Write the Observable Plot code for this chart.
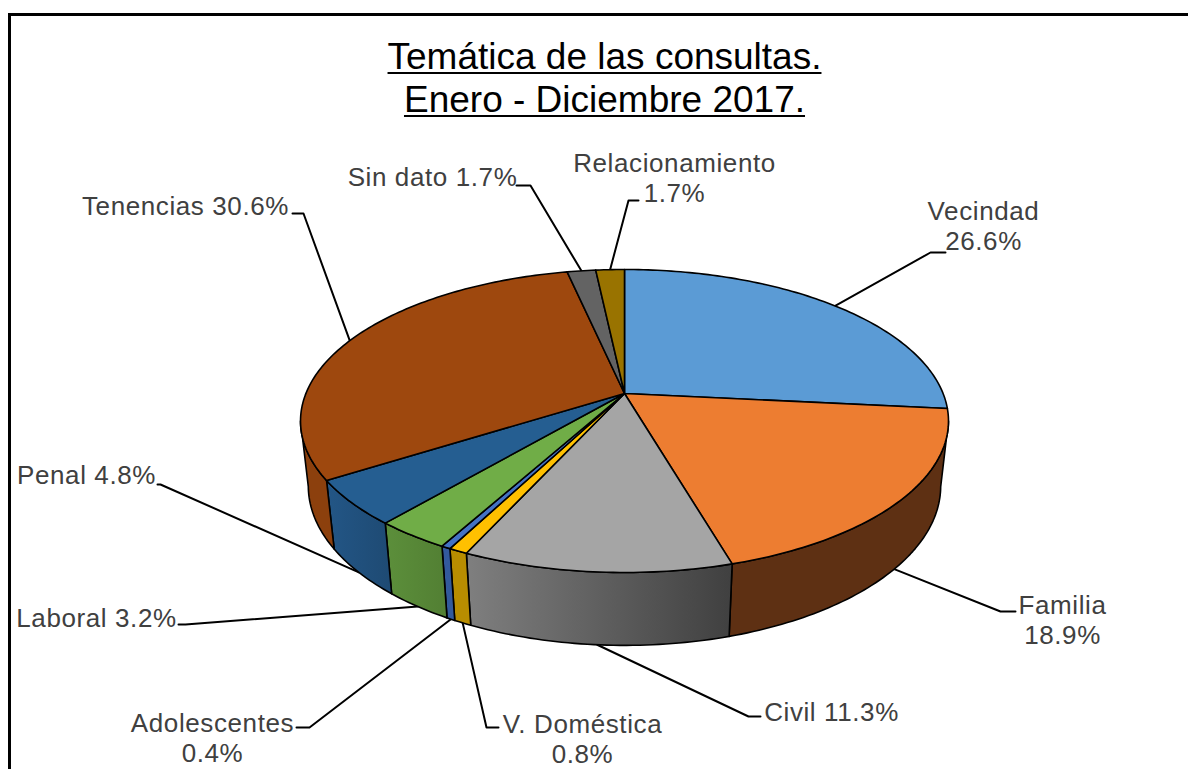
<!DOCTYPE html>
<html lang="es">
<head>
<meta charset="utf-8">
<script src="https://cdn.jsdelivr.net/npm/d3@7"></script>
<script src="https://cdn.jsdelivr.net/npm/@observablehq/plot@0.6"></script>
<style>
  html, body { margin: 0; padding: 0; width: 1188px; height: 769px; overflow: hidden; background: #fff; }
  #frame { position: absolute; left: 8px; top: 13px; width: 1300px; height: 800px; border-left: 3px solid #000; border-top: 3px solid #000; pointer-events: none; }
  #title { position: absolute; left: 0; top: 35px; width: 1209px; text-align: center;
           font: 37px/43px "Liberation Sans", Arial, sans-serif; color: #000; }
  #title u { text-underline-offset: 3px; text-decoration-thickness: 2px; }
  #chart { position: absolute; left: 0; top: 125px; }
  #chart svg { background: transparent; }
</style>
</head>
<body>
<div id="title"><u>Temática de las consultas.</u><br><u>Enero - Diciembre 2017.</u></div>
<div id="chart"></div>
<div id="frame"></div>
<script>
// Data, clockwise from 12 o'clock
const categories = ["Vecindad", "Familia", "Civil", "V. Doméstica", "Adolescentes", "Laboral", "Penal", "Tenencias", "Sin dato", "Relacionamiento"];
const values = [26.6, 18.9, 11.3, 0.8, 0.4, 3.2, 4.8, 30.6, 1.7, 1.7];
const labels = ["Vecindad\n26.6%", "Familia\n18.9%", "Civil 11.3%", "V. Doméstica\n0.8%", "Adolescentes\n0.4%", "Laboral 3.2%", "Penal 4.8%", "Tenencias 30.6%", "Sin dato 1.7%", "Relacionamiento\n1.7%"];
const topColors = ["#5b9bd5", "#ed7d31", "#a5a5a5", "#ffc000", "#4472c4", "#70ad47", "#255e91", "#9e480e", "#636363", "#997300"];
const wallColors = ["#5b9bd5", "#5e3013", "url(#wallCivil)", "#b88d00", "#335a9c", "url(#wallLaboral)", "url(#wallPenal)", "#8c400d", "#636363", "#997300"];

// Label placement: text centre, and the elbow where the leader meets the label
const labelCentre = [[983, 225], [1062, 619], [831, 711], [582, 738], [212, 737], [96, 617], [86, 474], [185, 205], [432, 176], [674, 177]];
const leaderElbow = [[930, 252], [1000, 611], [748, 716], [486, 727], [309, 727], [185, 624], [160, 484], [303, 213], [530, 185], [628, 200]];
const leaderEnd = [[945, 252], [1015, 611], [760, 716], [498, 727], [296, 727], [178, 624], [157, 484], [292, 213], [516, 185], [638, 200]];
const leaderOnBase = [false, true, true, true, true, true, true, false, false, false];

// Perspective view of the tilted pie
const cx = 624, cy = 393, R = 318.6, persp = 0.1815, tilt = -75.17, depthScale = 0.0238, depthDrop = 75;
const project = (deg, floor) => {
  const a = deg * Math.PI / 180, u = Math.sin(a), v = Math.cos(a);
  const w = 1 + persp * v + (floor ? depthScale : 0);
  return {x: cx + R * u / w, y: (cy + tilt * v + (floor ? depthDrop : 0)) / w};
};
const arc = (a0, a1, floor) => {
  const n = Math.max(1, Math.ceil(Math.abs(a1 - a0)));
  return d3.range(n + 1).map((i) => project(a0 + (a1 - a0) * i / n, floor));
};

let running = 0;
const slices = values.map((value, i) => {
  const a0 = running * 3.6; running += value; const a1 = running * 3.6;
  return {i, a0, a1, mid: (a0 + a1) / 2};
});

// The wall is seen only between the two tangent angles of the rim
const tangent = Math.acos(-persp) * 180 / Math.PI;
const wallFrom = tangent, wallTo = 360 - tangent;

const stroke = "#000", strokeWidth = 1.6;
const linejoin = {strokeLinejoin: "round"};
const xy = {x: "x", y: "y"};

const wallMarks = slices.flatMap((s) => {
  const a0 = Math.max(s.a0, wallFrom), a1 = Math.min(s.a1, wallTo);
  if (a1 <= a0) return [];
  const ring = [...arc(a0, a1, false), ...arc(a1, a0, true)];
  ring.push(ring[0]);
  return [Plot.line(ring, {...xy, fill: wallColors[s.i], stroke, strokeWidth, ...linejoin})];
});

const topMarks = slices.map((s) => {
  const ring = [{x: cx, y: cy}, ...arc(s.a0, s.a1, false), {x: cx, y: cy}];
  return Plot.line(ring, {...xy, fill: topColors[s.i], stroke, strokeWidth, ...linejoin});
});

const leaderMarks = slices.map((s) => {
  const path = [project(s.mid, leaderOnBase[s.i]),
    {x: leaderElbow[s.i][0], y: leaderElbow[s.i][1]},
    {x: leaderEnd[s.i][0], y: leaderEnd[s.i][1]}];
  return Plot.line(path, {...xy, stroke, strokeWidth: 2, curve: "linear"});
});

const gradient = (id, from, to) => {
  const g = d3.create("svg:linearGradient").attr("id", id).attr("x1", 0).attr("x2", 1).attr("y1", 0).attr("y2", 0);
  g.append("stop").attr("offset", "0%").attr("stop-color", from);
  g.append("stop").attr("offset", "100%").attr("stop-color", to);
  return g.node();
};
const defs = () => {
  const d = d3.create("svg:defs");
  d.append(() => gradient("wallCivil", "#7f7f7f", "#404040"));
  d.append(() => gradient("wallLaboral", "#5c8f3b", "#527f33"));
  d.append(() => gradient("wallPenal", "#235686", "#1e4a73"));
  return d.node();
};

const labelRows = labels.map((text, i) => ({text, x: labelCentre[i][0], y: labelCentre[i][1], category: categories[i]}));

const chart = Plot.plot({
  width: 1188,
  height: 644,
  margin: 0,
  x: {domain: [0, 1188], range: [0, 1188], axis: null},
  y: {domain: [125, 769], range: [0, 644], axis: null},
  style: {background: "transparent", letterSpacing: "0.6px"},
  marks: [
    defs,
    ...leaderMarks,
    ...wallMarks,
    ...topMarks,
    Plot.text(labelRows, {x: "x", y: "y", text: "text", fontSize: 26, lineHeight: 1.17, fill: "#404040",
      fontFamily: "'Liberation Sans', Arial, sans-serif", textAnchor: "middle"})
  ]
});
document.getElementById("chart").append(chart);
</script>
</body>
</html>
